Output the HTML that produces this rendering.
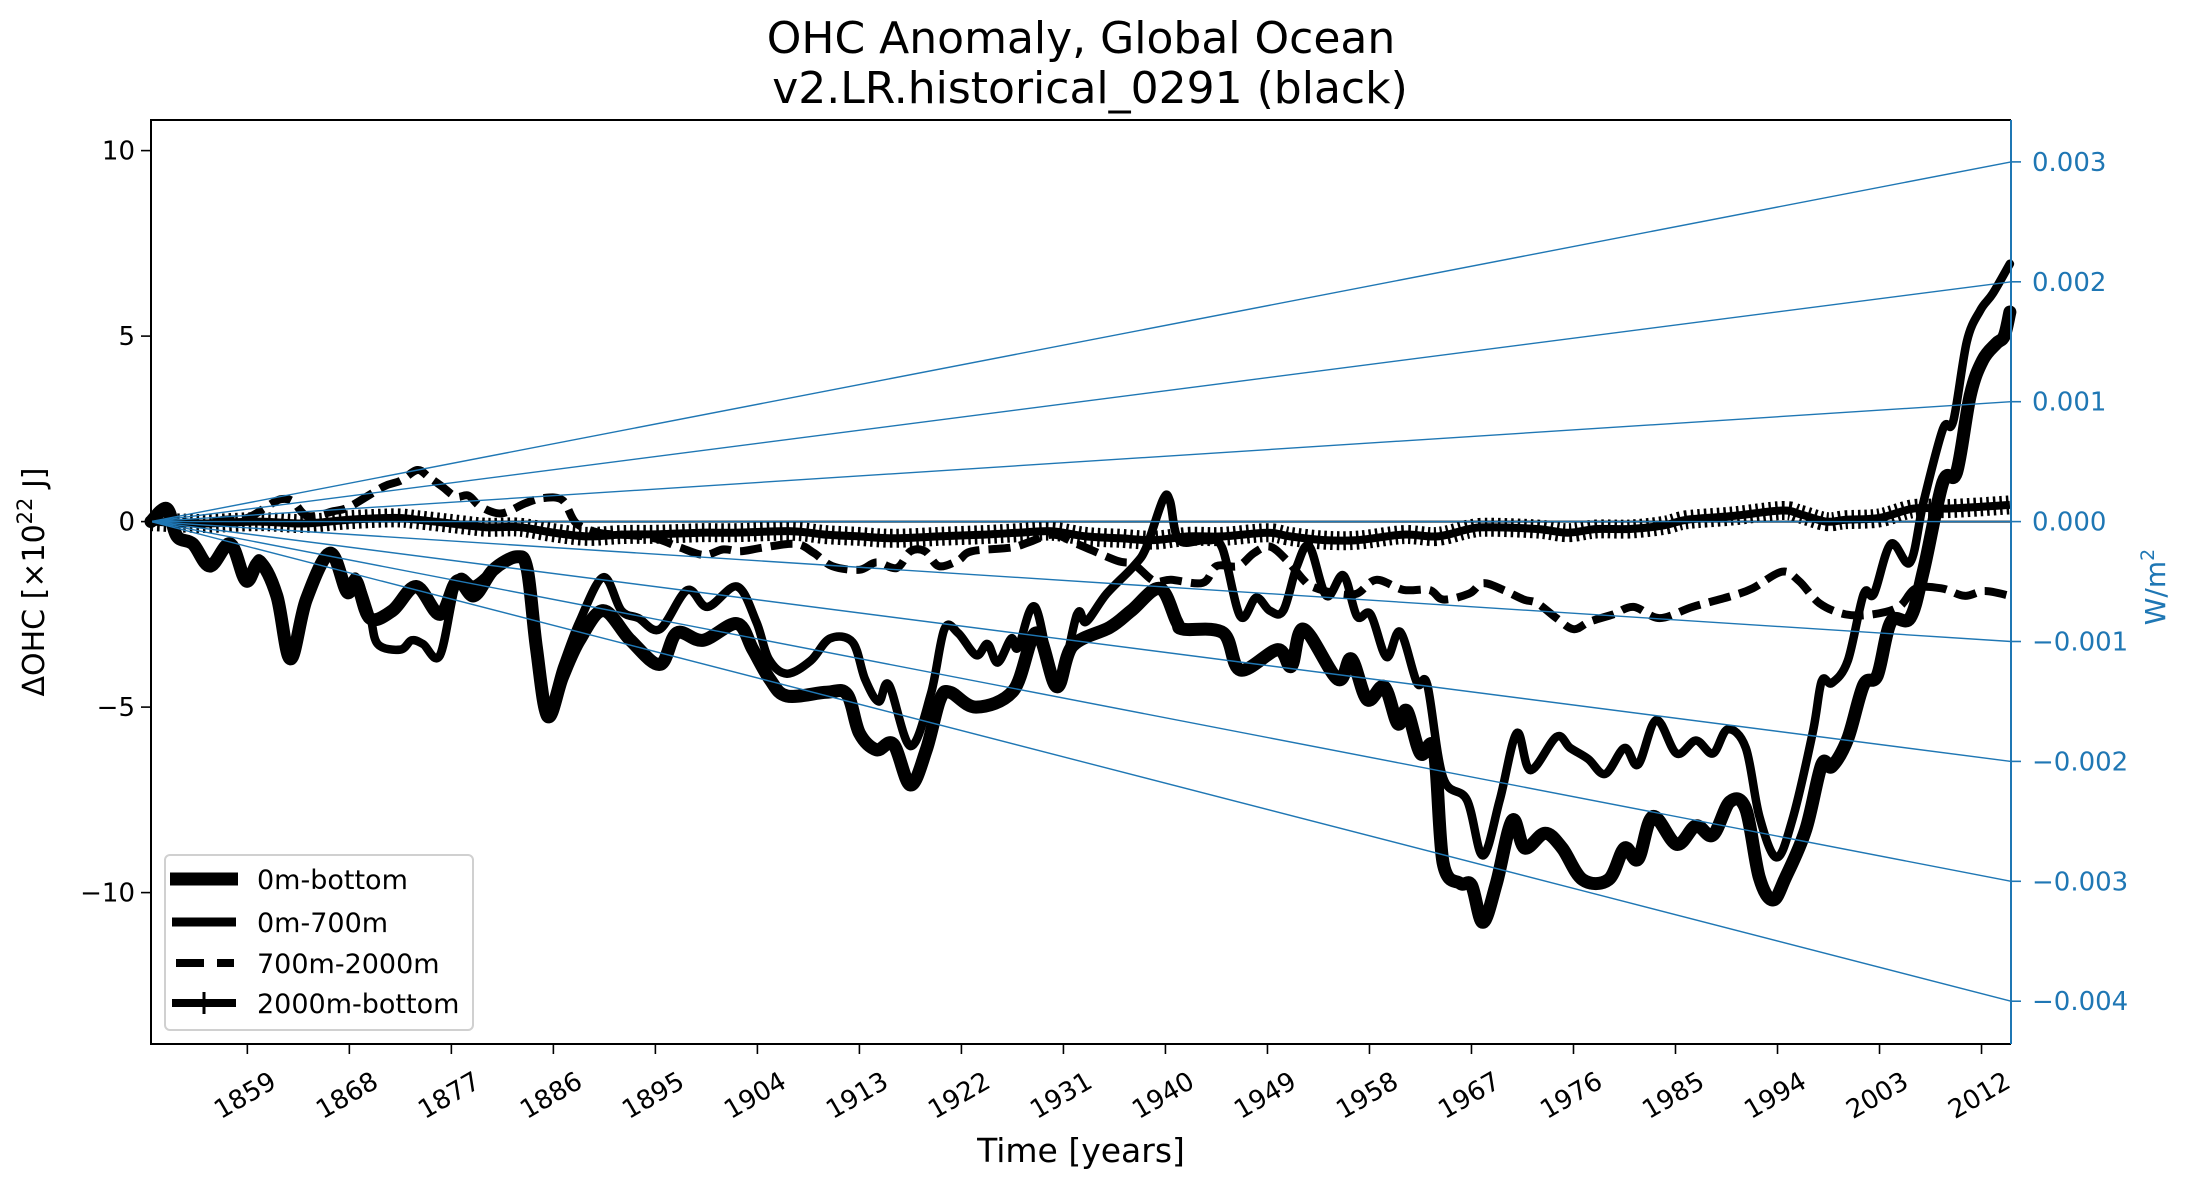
<!DOCTYPE html>
<html><head><meta charset="utf-8"><style>
html,body{margin:0;padding:0;background:#fff;}
svg{display:block;font-family:"DejaVu Sans","Liberation Sans",sans-serif;}
</style></head><body>
<svg id="chart" width="2195" height="1187" viewBox="0 0 2195 1187" xmlns="http://www.w3.org/2000/svg">
<rect width="2195" height="1187" fill="#fff"/>
<text x="1081" y="53" font-size="44" text-anchor="middle">OHC Anomaly, Global Ocean</text>
<text x="1090" y="103" font-size="44" text-anchor="middle">v2.LR.historical_0291 (black)</text>
<g id="plot"></g>
<g id="axes"></g>
<text x="1081" y="1162" font-size="33" text-anchor="middle">Time [years]</text>
<text transform="translate(44,582) rotate(-90)" font-size="30" text-anchor="middle">ΔOHC [×10<tspan dy="-12" font-size="21">22</tspan><tspan dy="12"> J]</tspan></text>
<text transform="translate(2165,587) rotate(-90)" font-size="28" fill="#1f77b4" text-anchor="middle">W/m<tspan dy="-11" font-size="19">2</tspan></text>
<g id="legend">
<rect x="165" y="855" width="308" height="175" rx="5" fill="#fff" fill-opacity="0.8" stroke="#d0d0d0" stroke-width="2"/>
<line x1="170" y1="879" x2="238" y2="879" stroke="#000" stroke-width="13"/>
<text x="257" y="889" font-size="27">0m-bottom</text>
<line x1="172" y1="922" x2="236" y2="922" stroke="#000" stroke-width="9"/>
<text x="257" y="932" font-size="27">0m-700m</text>
<line x1="176" y1="963" x2="234" y2="963" stroke="#000" stroke-width="8" stroke-dasharray="28 13"/>
<text x="257" y="973" font-size="27">700m-2000m</text>
<line x1="172" y1="1003" x2="236" y2="1003" stroke="#000" stroke-width="8"/>
<line x1="204" y1="992" x2="204" y2="1014" stroke="#000" stroke-width="3"/>
<text x="257" y="1013" font-size="27">2000m-bottom</text>
</g>
</svg>
<script>
const bottomYears=[1850.5,1851.9,1852.8,1854.2,1855.7,1857.5,1858.9,1860.1,1861.6,1862.8,1864.2,1866.3,1867.8,1868.6,1869.8,1871.8,1873.9,1876,1877.5,1879,1880.7,1882.8,1883.7,1884.5,1885.5,1886.8,1888.3,1890.4,1892.8,1895.4,1896.9,1899.2,1902.2,1903.6,1905.1,1906.6,1910.1,1911.9,1913,1914.5,1916,1917.5,1918.9,1920.1,1921,1923.3,1926.6,1928.6,1930.4,1931.8,1935.1,1937,1939.5,1941,1941.6,1945.1,1946.6,1949.9,1951.1,1952.2,1955.2,1956.4,1957.8,1959.3,1960.5,1961.3,1962.5,1963.7,1964.5,1966,1967,1968,1969.2,1970.6,1971.7,1973.5,1975,1976.8,1979.1,1980.5,1981.7,1983,1985.1,1986.8,1988.3,1989.8,1991.2,1992.4,1993.6,1994.7,1996.5,1997.9,1998.8,2000.2,2001.6,2002.8,2004,2005.7,2006.9,2008.6,2009.8,2011,2012.1,2013.3,2014,2014.5];
const bottomVals=[0,0.35,-0.4,-0.6,-1.2,-0.6,-1.6,-1.1,-2.0,-3.7,-2.1,-0.85,-1.9,-1.6,-2.6,-2.4,-1.75,-2.5,-1.6,-2.0,-1.3,-0.95,-1.3,-3.4,-5.25,-4.2,-3.2,-2.4,-3.2,-3.85,-3.0,-3.2,-2.75,-3.45,-4.25,-4.7,-4.6,-4.65,-5.7,-6.15,-6.0,-7.1,-6.15,-4.8,-4.6,-5.0,-4.55,-3.0,-4.45,-3.35,-2.85,-2.4,-1.8,-2.7,-2.9,-3.0,-4.0,-3.45,-3.9,-2.9,-4.25,-3.7,-4.8,-4.45,-5.45,-5.1,-6.25,-6.15,-9.2,-9.75,-9.8,-10.8,-9.75,-8.05,-8.8,-8.4,-8.8,-9.65,-9.65,-8.8,-9.1,-7.95,-8.7,-8.2,-8.45,-7.55,-7.75,-9.6,-10.2,-9.6,-8.3,-6.55,-6.6,-5.85,-4.4,-4.15,-2.7,-2.6,-1.3,1.07,1.33,3.4,4.35,4.8,5.0,5.65];
const upperYears=[1850.5,1851.9,1852.8,1854.2,1855.7,1857.5,1858.9,1860.1,1861.6,1862.8,1864.2,1866.3,1867.8,1868.6,1869.8,1870.5,1872.5,1873.5,1874.5,1876,1877.5,1879,1880.7,1882.8,1883.7,1884.5,1885.5,1886.8,1888.3,1890.4,1892,1893.5,1895.4,1897.8,1899.6,1902.2,1903.9,1905,1906.6,1908.7,1910.4,1912.4,1913.5,1914.7,1915.6,1917.5,1919.3,1920.5,1921.7,1923.3,1924.3,1925.2,1926.4,1927,1928.5,1930.4,1932.2,1933,1934.8,1937.2,1938.3,1939.8,1940.4,1941.2,1943.6,1945,1946.6,1948,1949.2,1950.4,1951.6,1952.7,1954.2,1955.7,1956.9,1958.1,1959.5,1960.7,1962.2,1963.1,1964.5,1966.6,1968,1969.5,1971,1972.2,1974.5,1975.7,1977.3,1978.8,1980.5,1981.7,1983.3,1985.1,1986.8,1988.3,1989.6,1991.2,1992.4,1993.9,1995.3,1997.1,1997.9,1998.8,2000.2,2001.6,2002.5,2004,2005.7,2006.9,2008.6,2009.5,2010.7,2011.9,2013,2014.5];
const upperVals=[0,0.3,-0.4,-0.6,-1.1,-0.6,-1.5,-1.0,-1.9,-3.5,-2.0,-0.9,-1.8,-1.5,-2.5,-3.3,-3.45,-3.2,-3.3,-3.6,-1.6,-1.7,-1.3,-0.95,-1.2,-3.2,-5.0,-3.9,-2.7,-1.5,-2.4,-2.6,-2.9,-1.85,-2.3,-1.75,-2.7,-3.7,-4.1,-3.75,-3.15,-3.25,-4.25,-4.85,-4.4,-6.05,-4.65,-2.9,-3.0,-3.6,-3.3,-3.8,-3.15,-3.4,-2.3,-4.45,-2.5,-2.7,-1.95,-1.2,-0.7,0.6,0.55,-0.5,-0.5,-0.7,-2.55,-2.05,-2.4,-2.4,-1.2,-0.67,-2.0,-1.45,-2.55,-2.5,-3.65,-2.97,-4.35,-4.4,-6.9,-7.5,-9.0,-7.5,-5.7,-6.7,-5.8,-6.1,-6.4,-6.8,-6.1,-6.55,-5.35,-6.25,-5.9,-6.25,-5.6,-6.1,-7.95,-9.05,-8.05,-5.7,-4.3,-4.35,-3.75,-1.95,-1.95,-0.6,-1.1,0.55,2.5,2.7,4.85,5.7,6.15,6.95];
const midYears=[1850.5,1853,1855,1857,1859,1860.7,1861.9,1863,1864.3,1866.6,1868,1871,1872.5,1874,1875,1876.2,1877.4,1878.5,1879.6,1881.4,1883.5,1885,1886.8,1888,1890,1892,1894,1895.5,1897.2,1899.3,1901,1902.5,1904.5,1907.4,1909,1910.6,1913,1914.5,1916.3,1917.5,1918.8,1920,1921.7,1922.9,1926.4,1928,1930.1,1932.2,1935.7,1937.2,1939,1940.5,1943.3,1944.5,1946.4,1947.8,1949.2,1950.7,1952.2,1953,1955.1,1956.9,1958.6,1961,1963.3,1964.5,1966.8,1968,1969.8,1971.6,1972.8,1974.5,1976,1977.4,1979.5,1981.3,1983.6,1986.5,1990,1991.8,1994.4,1995.9,1997.7,2000,2002.4,2004.7,2006.2,2008.5,2010.5,2012.3,2014.5];
const midVals=[0,0,-0.05,0.05,0.1,0.4,0.6,0.55,0.15,0.28,0.4,0.94,1.1,1.39,1.2,0.94,0.67,0.7,0.4,0.22,0.49,0.63,0.58,-0.04,-0.3,-0.35,-0.4,-0.5,-0.7,-0.9,-0.75,-0.8,-0.7,-0.6,-0.85,-1.2,-1.3,-1.1,-1.25,-0.8,-0.8,-1.2,-1.05,-0.8,-0.7,-0.55,-0.35,-0.6,-1.05,-1.15,-1.6,-1.57,-1.65,-1.2,-1.2,-0.85,-0.67,-1.04,-1.58,-1.76,-1.94,-1.94,-1.57,-1.84,-1.84,-2.1,-1.94,-1.66,-1.84,-2.1,-2.2,-2.6,-2.9,-2.7,-2.5,-2.3,-2.6,-2.3,-2.0,-1.8,-1.35,-1.6,-2.2,-2.5,-2.5,-2.3,-1.8,-1.8,-2.0,-1.87,-2.0];
const deepYears=[1850.5,1855,1860,1864,1868,1872,1874,1877,1880,1883,1886,1889,1892,1895.4,1899,1902,1907,1910,1913,1916,1920,1924,1927,1930,1933,1936,1939,1942,1945,1949,1951,1954,1957,1961,1964,1966.8,1968.5,1972.8,1975.5,1978,1981,1984,1986,1990,1994.4,1996,1998.3,2000,2003,2006,2009,2012,2014.5];
const deepVals=[0,-0.05,0,-0.05,0.05,0.1,0.05,-0.05,-0.15,-0.15,-0.3,-0.4,-0.35,-0.34,-0.3,-0.3,-0.26,-0.35,-0.4,-0.45,-0.4,-0.35,-0.3,-0.26,-0.4,-0.45,-0.5,-0.4,-0.4,-0.3,-0.4,-0.5,-0.5,-0.35,-0.4,-0.2,-0.15,-0.2,-0.3,-0.2,-0.2,-0.1,0.05,0.15,0.3,0.2,0.0,0.05,0.1,0.35,0.35,0.4,0.45];
const xTickYears=[1859,1868,1877,1886,1895,1904,1913,1922,1931,1940,1949,1958,1967,1976,1985,1994,2003,2012];
const yTickVals=[10,5,0,-5,-10];
const yTickLabels=["10","5","0","\u22125","\u221210"];
const rightTickVals=[0.003,0.002,0.001,0,-0.001,-0.002,-0.003,-0.004];
const rightTickLabels=["0.003","0.002","0.001","0.000","\u22120.001","\u22120.002","\u22120.003","\u22120.004"];
const trendRates=[0.003,0.002,0.001,0,-0.001,-0.002,-0.003,-0.004];

const NS="http://www.w3.org/2000/svg";
const L=151,R=2011,T=120,B=1044;
const X0=1850.5,X1=2014.6;
function xs(y){return L+(y-X0)/(X1-X0)*(R-L);}
function ys(v){return 521.6-v*37.1;}
function yr(w){return 521.6-w*119900;}
function mk(tag,attrs,parent){const e=document.createElementNS(NS,tag);for(const k in attrs)e.setAttribute(k,attrs[k]);parent.appendChild(e);return e;}
const plot=document.getElementById('plot'),axes=document.getElementById('axes');
function pathD(xa,va){
  const pts=xa.map((x,i)=>[xs(x),ys(va[i])]);
  let d='M'+pts[0][0].toFixed(1)+' '+pts[0][1].toFixed(1);
  for(let i=0;i<pts.length-1;i++){
    const p0=pts[Math.max(0,i-1)],p1=pts[i],p2=pts[i+1],p3=pts[Math.min(pts.length-1,i+2)];
    const c1x=p1[0]+(p2[0]-p0[0])/6,c1y=p1[1]+(p2[1]-p0[1])/6;
    const c2x=p2[0]-(p3[0]-p1[0])/6,c2y=p2[1]-(p3[1]-p1[1])/6;
    d+=` C${c1x.toFixed(1)} ${c1y.toFixed(1)} ${c2x.toFixed(1)} ${c2y.toFixed(1)} ${p2[0].toFixed(1)} ${p2[1].toFixed(1)}`;
  }
  return d;
}

let z=mk('line',{x1:L,x2:R,y1:ys(0),y2:ys(0),stroke:'#000','stroke-width':2},plot);



let p=mk('path',{d:pathD(bottomYears,bottomVals),fill:'none',stroke:'#000','stroke-width':13,'stroke-linejoin':'round','stroke-linecap':'round'},plot);


p=mk('path',{d:pathD(upperYears,upperVals),fill:'none',stroke:'#000','stroke-width':8.5,'stroke-linejoin':'round','stroke-linecap':'round'},plot);


p=mk('path',{d:pathD(midYears,midVals),fill:'none',stroke:'#000','stroke-width':8,'stroke-dasharray':'22 9','stroke-linejoin':'round'},plot);


p=mk('path',{d:pathD(deepYears,deepVals),fill:'none',stroke:'#000','stroke-width':8,'stroke-linejoin':'round'},plot);


p=mk('path',{d:pathD(deepYears,deepVals),fill:'none',stroke:'#000','stroke-width':19,'stroke-dasharray':'2.5 4'},plot);



trendRates.forEach((w,i)=>{
  const l=mk('line',{x1:L,y1:ys(0),x2:R,y2:yr(w),stroke:'#1f77b4','stroke-width':1.4},plot);
  
  
});

let f=mk('path',{d:`M${R} ${T} L${L} ${T} L${L} ${B} L${R} ${B}`,fill:'none',stroke:'#000','stroke-width':2},axes);


f=mk('line',{x1:R,y1:T,x2:R,y2:B,stroke:'#1f77b4','stroke-width':2},axes);



xTickYears.forEach((yv,i)=>{
  const x=xs(yv);
  const t=mk('line',{x1:x,x2:x,y1:B,y2:B+10,stroke:'#000','stroke-width':1.6},axes);
  
  
  const tx=mk('text',{x:0,y:0,'font-size':26,'text-anchor':'middle','dominant-baseline':'central',transform:`translate(${x-2},${B+52}) rotate(-30)`},axes);
  tx.textContent=String(yv);
  
  
});
yTickVals.forEach((v,i)=>{
  const y=ys(v);
  const t=mk('line',{x1:L-10,x2:L,y1:y,y2:y,stroke:'#000','stroke-width':1.6},axes);
  
  
  const tx=mk('text',{x:L-16,y:y+9,'font-size':26,'text-anchor':'end'},axes);
  tx.textContent=yTickLabels[i];
  
  
});
rightTickVals.forEach((w,i)=>{
  const y=yr(w);
  const t=mk('line',{x1:R,x2:R+10,y1:y,y2:y,stroke:'#1f77b4','stroke-width':1.6},axes);
  
  
  const tx=mk('text',{x:R+21,y:y+9,'font-size':26,fill:'#1f77b4'},axes);
  tx.textContent=rightTickLabels[i];
  
  
});
</script>
</body></html>
